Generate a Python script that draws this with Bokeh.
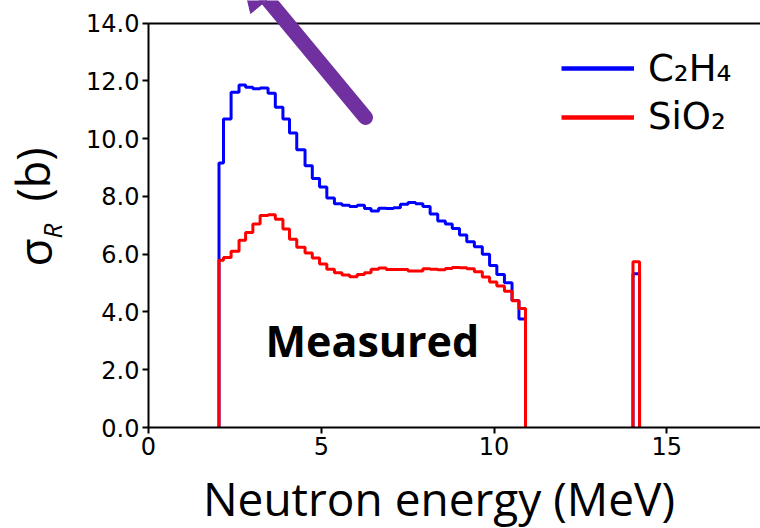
import math
from bokeh.plotting import figure
from bokeh.models import (Range1d, FixedTicker, Label, Arrow, NormalHead,
                          Legend, LegendItem, PrintfTickFormatter, LinearAxis)
from bokeh.embed import file_html
from bokeh.resources import INLINE

# ---------------- data ----------------
energy_edges = [2.04, 2.17, 2.39, 2.62, 2.81, 3.02, 3.23, 3.46, 3.67, 3.89, 4.08,
                4.29, 4.53, 4.74, 4.95, 5.16, 5.38, 5.60, 5.82, 6.04, 6.25, 6.44,
                6.66, 6.88, 7.09, 7.29, 7.51, 7.73, 7.94, 8.15, 8.37, 8.59, 8.79,
                9.00, 9.21, 9.43, 9.66, 9.87, 10.08, 10.30, 10.52, 10.72, 10.91]
c2h4 = [9.16, 10.68, 11.61, 11.86, 11.78, 11.73, 11.76, 11.57, 11.09, 10.68, 10.20,
        9.62, 9.06, 8.62, 8.33, 7.95, 7.75, 7.70, 7.65, 7.70, 7.58, 7.50, 7.59,
        7.58, 7.61, 7.73, 7.79, 7.75, 7.65, 7.39, 7.15, 7.05, 6.89, 6.67, 6.43,
        6.26, 6.00, 5.61, 5.30, 5.01, 4.40, 3.76]
sio2 = [5.79, 5.89, 6.10, 6.48, 6.75, 7.05, 7.34, 7.37, 7.21, 6.87, 6.52, 6.24,
        6.04, 5.87, 5.66, 5.48, 5.36, 5.28, 5.22, 5.30, 5.36, 5.48, 5.52, 5.47,
        5.47, 5.47, 5.42, 5.42, 5.50, 5.48, 5.46, 5.51, 5.54, 5.53, 5.50, 5.39,
        5.21, 5.04, 4.90, 4.72, 4.39, 4.12]
peak_edges = [14.02, 14.21]
c2h4_peak = [5.32]
sio2_peak = [5.74]
x_ticks = [0, 5, 10, 15]
y_ticks = [0, 2, 4, 6, 8, 10, 12, 14]
x_max = 17.71
y_max = 14.0
series_labels = ["C\u2082H\u2084", "SiO\u2082"]
x_title = "Neutron energy (MeV)"
y_title_parts = ["\u03c3", "R", "(b)"]
annotation_text = "Measured"


def hist_path(edges, vals):
    xs = [edges[0]] + list(edges)
    ys = [0.0] + list(vals) + [0.0]
    return xs, ys


# ---------------- layout (page pixels) ----------------
W, H = 760, 528
AX_LEFT, AX_BOTTOM, AX_TOP = 148.0, 427.0, 22.7
PXU = (W - AX_LEFT) / x_max          # px per MeV
PYU = (AX_BOTTOM - AX_TOP) / y_max   # px per barn


def dx(px):
    return (px - AX_LEFT) / PXU


def dy(py):
    return (AX_BOTTOM - py) / PYU


# frame covers the whole canvas; axes sit at fixed locations inside it
p = figure(width=W, height=H,
           x_range=Range1d(dx(0), dx(W)), y_range=Range1d(dy(H), dy(0)),
           output_backend="svg", toolbar_location=None, min_border=0)
p.xgrid.visible = False
p.ygrid.visible = False
p.outline_line_color = None
p.background_fill_color = "white"
p.border_fill_color = "white"

for ax in (p.xaxis[0], p.yaxis[0]):
    ax.axis_line_width = 2
    ax.axis_line_color = "black"
    ax.major_tick_line_width = 2
    ax.major_tick_line_color = "black"
    ax.major_tick_out = 6
    ax.major_tick_in = 0
    ax.minor_tick_out = 0
    ax.minor_tick_in = 0
    ax.major_label_text_font = "DejaVu Sans"
    ax.major_label_text_font_size = "24px"
    ax.major_label_text_color = "black"
    ax.major_label_standoff = 3
    ax.fixed_location = 0

p.xaxis.ticker = FixedTicker(ticks=x_ticks)
p.xaxis.bounds = (0, x_max)
p.yaxis.ticker = FixedTicker(ticks=y_ticks)
p.yaxis.bounds = (0, y_max)
p.yaxis.formatter = PrintfTickFormatter(format="%.1f")

# top spine
top = LinearAxis(fixed_location=y_max, bounds=(0, x_max), ticker=FixedTicker(ticks=[]),
                 axis_line_width=2, axis_line_color="black",
                 major_tick_out=0, major_tick_in=0, minor_tick_out=0, minor_tick_in=0)
p.add_layout(top, "above")

# ---------------- data lines ----------------
bx, by = hist_path(energy_edges, c2h4)
p.step(x=bx, y=by, mode="after", line_color="#0000FF", line_width=3)
bpx, bpy = hist_path(peak_edges, c2h4_peak)
p.step(x=bpx, y=bpy, mode="after", line_color="#0000FF", line_width=3)
rx, ry = hist_path(energy_edges, sio2)
p.step(x=rx, y=ry, mode="after", line_color="#FF0000", line_width=3)
rpx, rpy = hist_path(peak_edges, sio2_peak)
p.step(x=rpx, y=rpy, mode="after", line_color="#FF0000", line_width=3)

# legend proxies (single point -> nothing drawn in the plot)
lb = p.line(x=bx[:1], y=by[:1], line_color="#0000FF", line_width=4.5)
lr = p.line(x=rx[:1], y=ry[:1], line_color="#FF0000", line_width=4.5)

for rend, lab, py in ((lb, series_labels[0], 68.3), (lr, series_labels[1], 116.7)):
    leg = Legend(items=[LegendItem(label=lab, renderers=[rend])],
                 location=(561, H - py - 30), glyph_width=73, glyph_height=60,
                 label_height=60, label_standoff=14, padding=0, margin=0,
                 border_line_color=None, background_fill_alpha=0,
                 label_text_font="DejaVu Sans", label_text_font_size="37px",
                 label_text_baseline="middle", label_text_color="black")
    p.add_layout(leg)

# ---------------- texts ----------------
# (Bokeh draws 'alphabetic' text ~0.35em below the anchor; anchors compensate)
p.add_layout(Label(x=dx(438.5), y=dy(497), text=x_title, text_align="center",
                   text_font="Open Sans", text_font_size="46px",
                   text_color="black", text_baseline="alphabetic"))

p.add_layout(Label(x=dx(265), y=dy(340), text=annotation_text, text_font="Open Sans",
                   text_font_style="bold", text_font_size="43px",
                   text_color="black", text_baseline="alphabetic"))

purple = "#7030A0"
p.add_layout(Arrow(end=NormalHead(size=44, fill_color=purple, line_color=purple),
                   x_start=dx(365), y_start=dy(117), x_end=dx(239), y_end=dy(-35),
                   line_color=purple, line_width=15, line_cap="round"))

# y-axis title: sigma_R (b), rotated to read bottom-to-top
p.add_layout(Label(x=dx(33), y=dy(266), text=y_title_parts[0], angle=math.pi / 2,
                   text_font="Open Sans", text_font_size="46px",
                   text_color="black", text_baseline="alphabetic"))
p.add_layout(Label(x=dx(51), y=dy(238), text=y_title_parts[1], angle=math.pi / 2,
                   text_font="Open Sans", text_font_style="italic",
                   text_font_size="26px", text_color="black",
                   text_baseline="alphabetic"))
p.add_layout(Label(x=dx(32), y=dy(201), text=y_title_parts[2], angle=math.pi / 2,
                   text_font="Open Sans", text_font_size="45px",
                   text_color="black", text_baseline="alphabetic"))

open("out.html", "w").write(file_html(p, INLINE))
